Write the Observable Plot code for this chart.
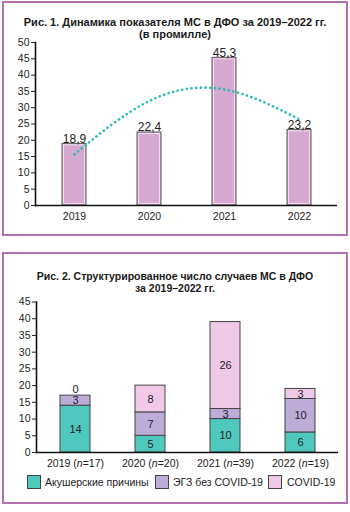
<!DOCTYPE html>
<html><head><meta charset="utf-8">
<script src="https://cdn.jsdelivr.net/npm/d3@7"></script>
<script src="https://cdn.jsdelivr.net/npm/@observablehq/plot@0.6"></script>
<style>
body{margin:0;background:#fff;font-family:"Liberation Sans",Arial,sans-serif;color:#222}
#root{position:relative;width:350px;height:512px;overflow:hidden}
.panel{position:absolute;left:2px;width:346px;border:2px solid #b470b0;box-sizing:border-box}
.title{position:absolute;left:0;width:350px;text-align:center;font-weight:bold;font-size:10.5px;line-height:11.5px;color:#1a1a1a}
.chart{position:absolute;left:0}
.sw{position:absolute;width:12px;height:12px;border:1px solid #444}
.lt{position:absolute;font-size:10.5px;line-height:12px;color:#222}
</style></head>
<body><div id="root">
<div class="panel" style="top:1px;height:235px"></div>
<div class="panel" style="top:252px;height:252px"></div>
<div class="title" style="top:17px;font-size:11px;line-height:11.5px">Рис. 1. Динамика показателя МС в ДФО за 2019–2022 гг.<br>(в промилле)</div>
<div class="title" style="top:271px">Рис. 2. Структурированное число случаев МС в ДФО<br>за 2019–2022 гг.</div>
<div id="c1" class="chart" style="top:0px"></div>
<div id="c2" class="chart" style="top:252px"></div>
<div id="legend"></div>
</div>
<script>
// ---- Data: chart 1 ----
const years = ["2019", "2020", "2021", "2022"];
const rateValues = [18.9, 22.4, 45.3, 23.2];
const trendValues = [15.7, 32.1, 35.6, 26.4]; // dotted trend
const yTicks1 = [0, 5, 10, 15, 20, 25, 30, 35, 40, 45, 50];

// ---- Data: chart 2 ----
const causes = ["Акушерские причины", "ЭГЗ без COVID-19", "COVID-19"];
const obstetric = [14, 5, 10, 6];
const egzNoCovid = [3, 7, 3, 10];
const covid = [0, 8, 26, 3];
const nTotals = [17, 20, 39, 19];
const yTicks2 = [0, 5, 10, 15, 20, 25, 30, 35, 40, 45];
const causeColors = ["#4fc9bd", "#bdabd8", "#efc9e6"];

const font = '"Liberation Sans", Arial, sans-serif';

// Chart 1
const d1 = years.map((y, i) => ({year: y, value: rateValues[i]}));
const t1 = years.map((y, i) => ({year: y, value: trendValues[i]}));
const fmt = v => v.toFixed(1).replace(".", ",");

const p1 = Plot.plot({
  width: 350, height: 236,
  marginTop: 42, marginBottom: 31, marginLeft: 35, marginRight: 13,
  style: {fontFamily: font, fontSize: "10.5px", color: "#222", background: "transparent", overflow: "visible"},
  x: {type: "band", domain: years, paddingInner: 0.68, paddingOuter: 0.34, align: 0.5},
  y: {domain: [0, 50]},
  marks: [
    Plot.barY(d1, {x: "year", y: "value", fill: "#d6a9d0", stroke: "#5a5a5a", strokeWidth: 1}),
    Plot.barY(d1, {x: "year", y: "value", fill: "none", stroke: "#f4dcf0", strokeWidth: 1, inset: 1.5}),
    Plot.line(t1, {x: "year", y: "value", curve: "natural", stroke: "#25bdb0", strokeWidth: 2.6, strokeDasharray: "0.1,4.6", strokeLinecap: "round"}),
    Plot.text(d1, {x: "year", y: "value", text: d => fmt(d.value), lineAnchor: "bottom", dy: -1, fontSize: 12, fill: "#222"}),
    Plot.axisY({ticks: yTicks1, tickSize: 4, tickPadding: 2, label: null, fontSize: 10.5}),
    Plot.axisX({tickSize: 0, tickPadding: 7, label: null, fontSize: 10.5}),
    Plot.ruleY([0], {stroke: "#111", strokeWidth: 1.3}),
    Plot.frame({anchor: "left", stroke: "#111", strokeWidth: 1.6})
  ]
});
document.getElementById("c1").appendChild(p1);

// Chart 2
const d2 = [];
years.forEach((y, i) => {
  d2.push({year: y, cause: causes[0], value: obstetric[i]});
  d2.push({year: y, cause: causes[1], value: egzNoCovid[i]});
  d2.push({year: y, cause: causes[2], value: covid[i]});
});
const nByYear = Object.fromEntries(years.map((y, i) => [y, nTotals[i]]));

const p2 = Plot.plot({
  width: 350, height: 230,
  marginTop: 49.5, marginBottom: 30, marginLeft: 36, marginRight: 12,
  style: {fontFamily: font, fontSize: "10.5px", color: "#222", background: "transparent", overflow: "visible"},
  x: {type: "band", domain: years, paddingInner: 0.6, paddingOuter: 0.3, align: 0.5},
  y: {domain: [0, 45]},
  color: {domain: causes, range: causeColors},
  marks: [
    Plot.barY(d2, {x: "year", y: "value", fill: "cause", z: "cause", stroke: "#444", strokeWidth: 1}),
    Plot.text(d2, Plot.stackY({x: "year", y: "value", z: "cause", text: d => d.value > 0 ? String(d.value) : null, fontSize: 11, fill: "#222"})),
    Plot.text(d2, Plot.stackY({x: "year", y: "value", z: "cause", text: d => d.value === 0 ? "0" : null, fontSize: 11, fill: "#222", dy: -6})),
    Plot.axisY({ticks: yTicks2, tickSize: 4, tickPadding: 2, label: null, fontSize: 10.5}),
    Plot.axisX({tickSize: 0, tickPadding: 7, label: null, fontSize: 10.5, tickFormat: y => `${y} (n=${nByYear[y]})`}),
    Plot.ruleY([0], {stroke: "#111", strokeWidth: 1.3}),
    Plot.frame({anchor: "left", stroke: "#111", strokeWidth: 1.6})
  ]
});
document.getElementById("c2").appendChild(p2);

// italic "n" in x tick labels
d3.select(p2).selectAll('g[aria-label="x-axis tick label"] text').each(function() {
  const s = this.textContent;
  const m = s.match(/^(.*\()n(=.*)$/);
  if (!m) return;
  const el = d3.select(this);
  el.text(null);
  el.append("tspan").text(m[1]);
  el.append("tspan").attr("font-style", "italic").text("n");
  el.append("tspan").text(m[2]);
});

// Legend
const legendPos = [{sw: 27, tx: 45}, {sw: 155, tx: 173}, {sw: 268, tx: 287}];
const lg = document.getElementById("legend");
causes.forEach((c, i) => {
  const s = document.createElement("div");
  s.className = "sw";
  s.style.left = legendPos[i].sw + "px";
  s.style.top = "475px";
  s.style.background = causeColors[i];
  lg.appendChild(s);
  const t = document.createElement("div");
  t.className = "lt";
  t.style.left = legendPos[i].tx + "px";
  t.style.top = "476px";
  t.textContent = c;
  lg.appendChild(t);
});
</script>
</body></html>
